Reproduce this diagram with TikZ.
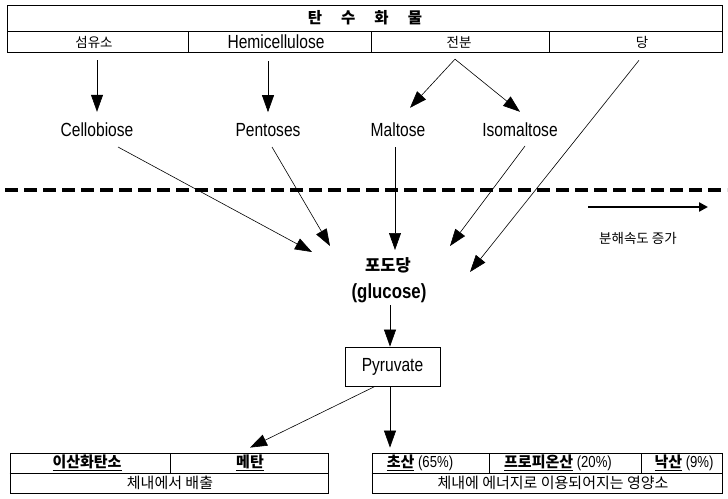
\documentclass[tikz,border=0pt]{standalone}
\usepackage{fontspec}
\setmainfont{Liberation Sans}[FakeStretch=0.82]
\newfontfamily\kr{Noto Sans CJK KR}
\usetikzlibrary{arrows.meta}
\begin{document}
\begin{tikzpicture}[x=1pt,y=-1pt,
 arr/.style={-{Triangle[length=17pt,width=12pt]}, line width=0.6pt},
 boxline/.style={draw, line width=0.8pt},
 lat/.style={font=\fontsize{19}{21}\selectfont, inner sep=0pt},
 krs/.style={font=\kr\fontsize{13.5}{15}\selectfont, inner sep=0pt},
 krb/.style={font=\kr\fontsize{15}{17}\selectfont, inner sep=0pt},
 krbb/.style={font=\kr\bfseries\fontsize{15}{17}\selectfont, inner sep=0pt},
 latb/.style={font=\fontsize{16}{18}\selectfont, inner sep=0pt},
]
\useasboundingbox (0,0) rectangle (728,498);
% top table
\draw[boxline] (7,5) rectangle (722,52);
\draw[boxline] (7,31) -- (722,31);
\foreach \x in {188,371,549} \draw[boxline] (\x,31) -- (\x,52);
\node[font=\kr\bfseries\fontsize{15.5}{17}\selectfont, inner sep=0pt] (title) at (365,18) {탄\hspace{19pt}수\hspace{19pt}화\hspace{19pt}물};
\node[krs] (fib) at (94,42) {섬유소};
\node[lat] (hemi) at (276,42) {Hemicellulose};
\node[krs] (starch) at (459,42) {전분};
\node[krs] (sugar) at (642,42) {당};
% intermediates
\node[lat] (cello) at (97,130) {Cellobiose};
\node[lat] (pent) at (268,130) {Pentoses};
\node[lat] (malt) at (398,130) {Maltose};
\node[lat] (isom) at (520,130) {Isomaltose};
% glucose
\node[font=\kr\bfseries\fontsize{16.5}{18}\selectfont, inner sep=0pt] (glcK) at (388,265) {포도당};
\node[font=\bfseries\fontsize{20.5}{22}\selectfont, inner sep=0pt] (glcE) at (389,293) {(glucose)};
% pyruvate
\node[boxline, lat, minimum width=95pt, minimum height=39pt] (pyr) at (392.5,366.5) {Pyruvate};
% bottom tables
\node[draw, line width=0.8pt, minimum width=318pt, minimum height=40pt, inner sep=0pt] (bl) at (169,473) {};
\draw[boxline] (bl.west) -- (bl.east);
\draw[boxline] (170,453) -- (170,473);
\node[krbb] (co2) at (87,463) {\underline{이산화탄소}};
\node[krbb] (ch4) at (250,463) {\underline{메탄}};
\node[krb] (excr) at (170,483) {체내에서 배출};
\node[draw, line width=0.8pt, minimum width=350pt, minimum height=40pt, inner sep=0pt] (br) at (547,473) {};
\draw[boxline] (br.west) -- (br.east);
\draw[boxline] (489,453) -- (489,473);
\draw[boxline] (641,453) -- (641,473);
\node[latb] (ace) at (420,463) {{\kr\bfseries\fontsize{15}{17}\selectfont\underline{초산}} (65\%)};
\node[latb] (prop) at (558,463) {{\kr\bfseries\fontsize{15}{17}\selectfont\underline{프로피온산}} (20\%)};
\node[latb] (but) at (684,463) {{\kr\bfseries\fontsize{15}{17}\selectfont\underline{낙산}} (9\%)};
\node[krb] (nutr) at (553,483) {체내에 에너지로 이용되어지는 영양소};
% dashed line and speed arrow
\coordinate (dl1) at (5,190);
\coordinate (dl2) at (727,190);
\draw[line width=3.6pt, dash pattern=on 13pt off 6pt] (dl1) -- (dl2);
\coordinate (sp1) at (588,207);
\coordinate (sp2) at (708,207);
\draw[line width=2.6pt, -{Triangle[length=9pt,width=9pt]}] (sp1) -- (sp2);
\node[font=\kr\fontsize{13.5}{15}\selectfont, inner sep=0pt] (speed) at (638,238) {분해속도 증가};
% arrows top
\draw[arr] ([yshift=-12pt]fib.south -| cello.north) -- ([yshift=11pt]cello.north);
\draw[arr] ([xshift=-8pt,yshift=-12pt]hemi.south) -- ([yshift=11pt]pent.north);
\draw[arr] ([xshift=-4pt,yshift=-11pt]starch.south) -- ([xshift=12pt,yshift=15pt]malt.north);
\draw[arr] ([xshift=-4pt,yshift=-11pt]starch.south) -- ([yshift=11pt]isom.north);
\draw[arr] ([xshift=-3pt,yshift=-12pt]sugar.south) -- ([xshift=82pt,yshift=-7pt]glcK.center);
% arrows to glucose
\draw[arr] ([xshift=21pt,yshift=-17pt]cello.center) -- ([xshift=-76pt,yshift=13pt]glcK.center);
\draw[arr] ([xshift=4pt,yshift=-17pt]pent.center) -- ([xshift=-58pt,yshift=19pt]glcK.center);
\draw[arr] ([xshift=-3pt,yshift=-17pt]malt.center) -- ([xshift=7pt,yshift=15pt]glcK.center);
\draw[arr] ([xshift=5pt,yshift=-16pt]isom.center) -- ([xshift=62pt,yshift=19pt]glcK.center);
% glucose -> pyruvate -> products
\draw[arr] ([xshift=1pt,yshift=-12pt]glcE.center) -- ([xshift=-2.5pt]pyr.north);
\draw[arr] ([xshift=-17.5pt]pyr.south) -- ([xshift=81pt,yshift=5pt]bl.north);
\draw[arr] ([xshift=-2.5pt]pyr.south) -- ([xshift=-157pt,yshift=5pt]br.north);
\end{tikzpicture}
\end{document}
